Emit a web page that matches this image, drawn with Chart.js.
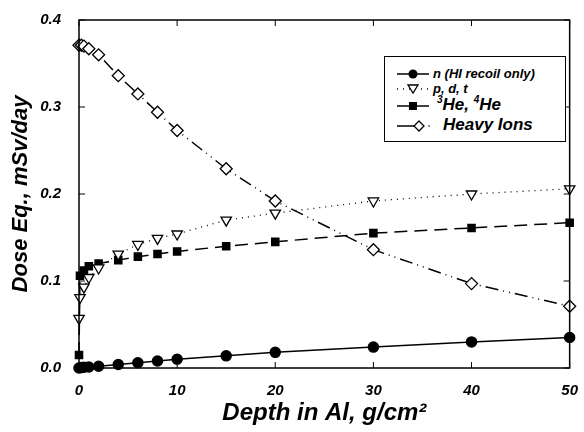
<!DOCTYPE html>
<html>
<head>
<meta charset="utf-8">
<script src="https://cdn.jsdelivr.net/npm/chart.js@4/dist/chart.umd.min.js"></script>
<style>
  body { margin: 0; background: #fff; }
  #wrap { position: relative; width: 584px; height: 432px; }
  #legend {
    position: absolute; left: 384px; top: 56px; width: 182px; height: 86px;
    border: 1.5px solid #000; box-sizing: border-box; background: #fff;
    font: italic bold 13px "Liberation Sans", Arial, sans-serif;
  }
  #legend .row { position: absolute; left: 10px; white-space: nowrap; line-height: 16px; }
  #legend svg { position: absolute; left: 0; top: 1px; }
  #legend .txt { position: absolute; left: 38px; top: 0; }
  #legend .big { font-size: 17px; line-height: 18px; }
  #legend sup { font-size: 10px; vertical-align: 7px; line-height: 0; }
</style>
</head>
<body>
<div id="wrap">
  <canvas id="c" width="584" height="432"></canvas>
  <div id="legend">
    <div class="row" style="top:9px"><svg width="36" height="14"><line x1="2" y1="7" x2="34" y2="7" stroke="#000" stroke-width="1.5"/><circle cx="18" cy="7" r="4.5" fill="#000"/></svg><span class="txt">n (HI recoil only)</span></div>
    <div class="row" style="top:24px"><svg width="36" height="14"><line x1="2" y1="7" x2="34" y2="7" stroke="#000" stroke-width="1.5" stroke-dasharray="1,5"/><polygon points="13,3 23,3 18,11" fill="#fff" stroke="#000" stroke-width="1.3"/></svg><span class="txt">p, d, t</span></div>
    <div class="row big" style="top:39px"><svg width="36" height="14" style="top:3px"><line x1="2" y1="7" x2="34" y2="7" stroke="#000" stroke-width="1.5"/><rect x="14" y="3" width="8" height="8" fill="#000"/></svg><span class="txt" style="left:42px"><sup>3</sup>He, <sup>4</sup>He</span></div>
    <div class="row big" style="top:59px"><svg width="36" height="14" style="top:3px"><line x1="2" y1="7" x2="20" y2="7" stroke="#000" stroke-width="1.5"/><polygon points="24,2 29,7 24,12 19,7" fill="#fff" stroke="#000" stroke-width="1.3"/><circle cx="34" cy="7" r="0.8" fill="#000"/></svg><span class="txt" style="left:48px">Heavy Ions</span></div>
  </div>
</div>
<script>
const depthN = [0, 0.25, 0.5, 1, 2, 4, 6, 8, 10, 15, 20, 30, 40, 50];
const doseN = [0, 0.0005, 0.001, 0.0012, 0.002, 0.004, 0.006, 0.008, 0.01, 0.014, 0.018, 0.024, 0.03, 0.035];

const depthP = [0, 0.1, 0.5, 1, 2, 4, 6, 8, 10, 15, 20, 30, 40, 50];
const doseP = [0.057, 0.081, 0.093, 0.104, 0.115, 0.131, 0.142, 0.149, 0.154, 0.17, 0.178, 0.192, 0.2, 0.206];

const depthHe = [0, 0.1, 0.5, 1, 2, 4, 6, 8, 10, 15, 20, 30, 40, 50];
const doseHe = [0.015, 0.106, 0.112, 0.117, 0.12, 0.124, 0.128, 0.131, 0.134, 0.14, 0.145, 0.155, 0.161, 0.167];

const depthHI = [0, 0.25, 0.5, 1, 2, 4, 6, 8, 10, 15, 20, 30, 40, 50];
const doseHI = [0.371, 0.371, 0.37, 0.367, 0.36, 0.336, 0.315, 0.294, 0.273, 0.229, 0.192, 0.136, 0.097, 0.071];

const xTicks = [0, 10, 20, 30, 40, 50];
const yTicks = [0, 0.1, 0.2, 0.3, 0.4];

const pts = (xs, ys) => xs.map((x, i) => ({ x: x, y: ys[i] }));
const font = { family: "'Liberation Sans', Arial, sans-serif", style: 'italic', weight: 'bold' };

// frame with inward ticks on all four sides
const framePlugin = {
  id: 'frame',
  afterDraw(chart) {
    const { ctx, chartArea: a, scales } = chart;
    ctx.save();
    ctx.strokeStyle = '#000';
    ctx.lineWidth = 1.5;
    ctx.strokeRect(a.left, a.top, a.right - a.left, a.bottom - a.top);
    ctx.lineWidth = 1;
    ctx.beginPath();
    xTicks.forEach(v => {
      const px = scales.x.getPixelForValue(v);
      ctx.moveTo(px, a.bottom); ctx.lineTo(px, a.bottom - 6);
      ctx.moveTo(px, a.top); ctx.lineTo(px, a.top + 6);
    });
    yTicks.forEach(v => {
      const py = scales.y.getPixelForValue(v);
      ctx.moveTo(a.left, py); ctx.lineTo(a.left + 6, py);
      ctx.moveTo(a.right, py); ctx.lineTo(a.right - 6, py);
    });
    ctx.stroke();
    ctx.restore();
  }
};

new Chart(document.getElementById('c'), {
  type: 'scatter',
  data: {
    datasets: [
      {
        label: 'n (HI recoil only)', data: pts(depthN, doseN), showLine: true,
        borderColor: '#000', borderWidth: 1.5, pointStyle: 'circle', pointRadius: 5,
        pointBackgroundColor: '#000', pointBorderColor: '#000'
      },
      {
        label: 'p, d, t', data: pts(depthP, doseP), showLine: true,
        borderColor: '#000', borderWidth: 1.3, borderDash: [1, 5], pointStyle: 'triangle', rotation: 180,
        pointRadius: 6, pointBackgroundColor: '#fff', pointBorderColor: '#000', pointBorderWidth: 1.3
      },
      {
        label: '3He, 4He', data: pts(depthHe, doseHe), showLine: true,
        borderColor: '#000', borderWidth: 1.5, borderDash: [13, 7], pointStyle: 'rect', pointRadius: 5,
        pointBackgroundColor: '#000', pointBorderColor: '#000'
      },
      {
        label: 'Heavy Ions', data: pts(depthHI, doseHI), showLine: true,
        borderColor: '#000', borderWidth: 1.5, borderDash: [13, 5, 1, 5, 1, 5], pointStyle: 'rectRot',
        pointRadius: 6, pointBackgroundColor: '#fff', pointBorderColor: '#000', pointBorderWidth: 1.3
      }
    ]
  },
  options: {
    responsive: false,
    animation: false,
    clip: false,
    layout: { padding: { left: 0, right: 13, top: 20, bottom: 0 } },
    plugins: { legend: { display: false }, tooltip: { enabled: false } },
    scales: {
      x: {
        type: 'linear', min: 0, max: 50,
        grid: { display: false }, border: { display: false },
        ticks: { stepSize: 10, color: '#000', font: { ...font, size: 15 }, padding: 6 },
        title: { display: true, text: 'Depth in Al, g/cm²', color: '#000', font: { ...font, size: 24 }, padding: { top: 8 } },
        afterFit: s => { s.height = 64; }
      },
      y: {
        min: 0, max: 0.4,
        grid: { display: false }, border: { display: false },
        ticks: { stepSize: 0.1, color: '#000', font: { ...font, size: 15 }, padding: 10, callback: v => v.toFixed(1) },
        title: { display: true, text: 'Dose Eq., mSv/day', color: '#000', font: { ...font, size: 22 }, padding: { top: 8, bottom: 0 } },
        afterFit: s => { s.width = 79; }
      }
    }
  },
  plugins: [framePlugin]
});
</script>
</body>
</html>
